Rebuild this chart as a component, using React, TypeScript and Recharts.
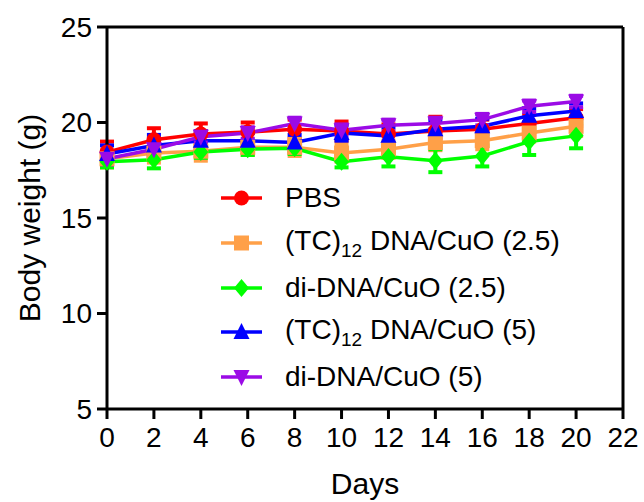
import { LineChart, Line, XAxis, YAxis, ErrorBar, ReferenceLine, Legend } from 'recharts'

const days = [0, 2, 4, 6, 8, 10, 12, 14, 16, 18, 20]
const xTicks = [0, 2, 4, 6, 8, 10, 12, 14, 16, 18, 20, 22]
const yTicks = [5, 10, 15, 20, 25]

const pbs = [18.45, 19.1, 19.4, 19.5, 19.65, 19.55, 19.4, 19.55, 19.65, 19.95, 20.25]
const pbsErr = [0.55, 0.6, 0.55, 0.5, 0.5, 0.5, 0.5, 0.75, 0.5, 0.45, 0.45]
const tc25 = [18.1, 18.4, 18.5, 18.7, 18.7, 18.4, 18.6, 18.95, 19.05, 19.45, 19.8]
const tc25Err = [0.45, 0.5, 0.5, 0.4, 0.45, 0.45, 0.45, 0.4, 0.45, 0.45, 0.5]
const di25 = [17.95, 18.05, 18.45, 18.6, 18.65, 17.95, 18.2, 18.0, 18.25, 19.0, 19.3]
const di25Err = [0.3, 0.45, 0.3, 0.3, 0.3, 0.3, 0.5, 0.6, 0.55, 0.7, 0.65]
const tc5 = [18.35, 18.8, 19.05, 19.05, 18.95, 19.45, 19.3, 19.65, 19.8, 20.35, 20.6]
const tc5Err = [0.45, 0.55, 0.5, 0.4, 0.4, 0.4, 0.45, 0.45, 0.4, 0.4, 0.4]
const di5 = [18.1, 18.6, 19.25, 19.45, 19.95, 19.6, 19.85, 19.95, 20.15, 20.85, 21.1]
const di5Err = [0.3, 0.35, 0.3, 0.3, 0.3, 0.3, 0.3, 0.3, 0.3, 0.3, 0.3]

const data = days.map((d, i) => ({
  day: d,
  pbs: pbs[i], pbsErr: pbsErr[i],
  tc25: tc25[i], tc25Err: tc25Err[i],
  di25: di25[i], di25Err: di25Err[i],
  tc5: tc5[i], tc5Err: tc5Err[i],
  di5: di5[i], di5Err: di5Err[i],
}))

const series = [
  { key: 'pbs', color: '#FF0000', shape: 'circle', name: 'PBS' },
  { key: 'tc25', color: '#FFA048', shape: 'square', name: 'tc|(2.5)' },
  { key: 'di25', color: '#00FF00', shape: 'diamond', name: 'di-DNA/CuO (2.5)' },
  { key: 'tc5', color: '#0000FF', shape: 'up', name: 'tc|(5)' },
  { key: 'di5', color: '#9B0BE6', shape: 'down', name: 'di-DNA/CuO (5)' },
]

const font = '"Liberation Sans", Arial, sans-serif'

function Marker({ cx, cy, shape, color }: any) {
  const s = 8
  if (shape === 'circle') return <circle cx={cx} cy={cy} r={7.5} fill={color} />
  if (shape === 'square') return <rect x={cx - 7.5} y={cy - 7.5} width={15} height={15} fill={color} />
  if (shape === 'diamond')
    return <polygon points={`${cx},${cy - 9} ${cx + 7.5},${cy} ${cx},${cy + 9} ${cx - 7.5},${cy}`} fill={color} />
  if (shape === 'up')
    return <polygon points={`${cx},${cy - s - 1} ${cx + s},${cy + s - 1} ${cx - s},${cy + s - 1}`} fill={color} />
  return <polygon points={`${cx - s},${cy - s + 1} ${cx + s},${cy - s + 1} ${cx},${cy + s + 1}`} fill={color} />
}

function legendLabel(name: string) {
  if (name.startsWith('tc|')) {
    return (
      <span>
        (TC)<sub style={{ fontSize: 19, verticalAlign: -7 }}>12</sub> DNA/CuO {name.slice(3)}
      </span>
    )
  }
  return <span>{name}</span>
}

function LegendBox() {
  return (
    <div style={{ fontFamily: font, fontSize: 28, color: '#000' }}>
      {series.map((s) => (
        <div key={s.key} style={{ display: 'flex', alignItems: 'center', height: 44.7 }}>
          <svg width={62} height={44} style={{ marginRight: 5 }}>
            <line x1={3} y1={22} x2={44} y2={22} stroke={s.color} strokeWidth={3.5} />
            <Marker cx={23.5} cy={22} shape={s.shape} color={s.color} />
          </svg>
          {legendLabel(s.name)}
        </div>
      ))}
    </div>
  )
}

export default function App() {
  return (
    <div style={{ position: 'absolute', left: 0, top: 0, background: '#fff' }}>
      <LineChart width={644} height={502} data={data} margin={{ top: 27, right: 21, left: 0, bottom: 0 }}>
        <XAxis
          dataKey="day"
          type="number"
          domain={[0, 22]}
          ticks={xTicks}
          interval={0}
          height={93}
          stroke="#000"
          strokeWidth={3}
          tickSize={10}
          tickMargin={8}
          tick={{ fill: '#000', fontSize: 28, fontFamily: font }}
          label={{ value: 'Days', position: 'insideBottom', offset: 8, fill: '#000', fontSize: 30, fontFamily: font }}
        />
        <YAxis
          type="number"
          domain={[5, 25]}
          ticks={yTicks}
          interval={0}
          width={107}
          stroke="#000"
          strokeWidth={3}
          tickSize={10}
          tickMargin={5}
          tick={{ fill: '#000', fontSize: 28, fontFamily: font }}
          label={{ value: 'Body weight (g)', angle: -90, position: 'insideLeft', offset: 29, style: { textAnchor: 'middle' }, fill: '#000', fontSize: 30, fontFamily: font }}
        />
        <ReferenceLine y={25} stroke="#000" strokeWidth={3} />
        <ReferenceLine x={22} stroke="#000" strokeWidth={3} />
        {series.map((s) => (
          <Line
            key={s.key}
            dataKey={s.key}
            stroke={s.color}
            strokeWidth={3.5}
            isAnimationActive={false}
            dot={(p: any) => <Marker key={`${s.key}-${p.index}`} cx={p.cx} cy={p.cy} shape={s.shape} color={s.color} />}
            activeDot={false}
          >
            <ErrorBar dataKey={`${s.key}Err`} width={7} stroke={s.color} strokeWidth={4} direction="y" />
          </Line>
        ))}
        <Legend
          layout="vertical"
          align="center"
          verticalAlign="middle"
          content={() => <LegendBox />}
          wrapperStyle={{ left: 218, top: 176, width: 400 }}
        />
      </LineChart>
    </div>
  )
}
